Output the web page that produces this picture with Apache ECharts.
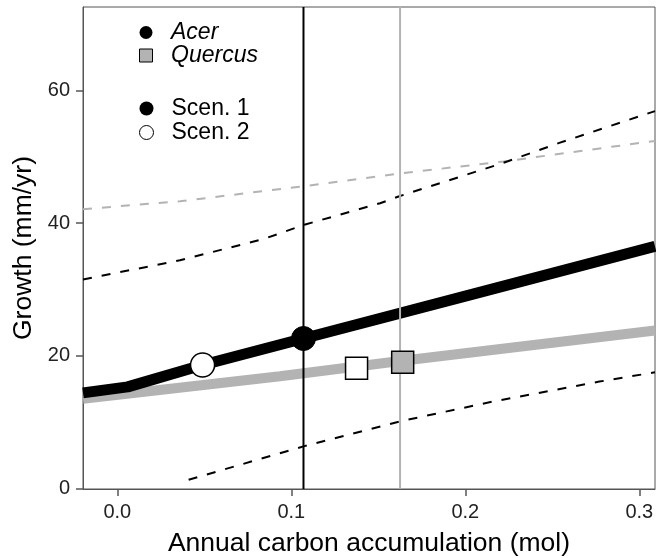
<!DOCTYPE html>
<html>
<head>
<meta charset="utf-8">
<script src="https://cdn.jsdelivr.net/npm/echarts@6/dist/echarts.min.js"></script>
<style>html,body{margin:0;padding:0;background:#fff}#c{width:656px;height:558px}</style>
</head>
<body>
<div id="c"></div>
<script>
// ---- data ----
const xTicks = [0.0, 0.1, 0.2, 0.3];
const yTicks = [0, 20, 40, 60];
const xRange = [-0.0197, 0.309];
const yRange = [-0.1, 72.6];

const acerFitX = [-0.0197, 0.006, 0.049, 0.107, 0.2, 0.309];
const acerFitY = [14.4, 15.3, 18.6, 22.6, 29.0, 36.5];

const acerUpperX = [-0.0197, 0.036, 0.084, 0.108, 0.151, 0.1625, 0.222, 0.254, 0.309];
const acerUpperY = [31.5, 34.4, 37.6, 39.8, 43.0, 44.1, 49.1, 52.1, 56.9];

const acerLowerX = [0.041, 0.108, 0.1625, 0.216, 0.277, 0.309];
const acerLowerY = [1.3, 6.4, 10.1, 13.1, 16.1, 17.5];

const quercusFitX = [-0.0197, 0.0935, 0.1625, 0.309];
const quercusFitY = [13.5, 16.9, 19.2, 23.8];

const quercusUpperX = [-0.0197, 0.036, 0.108, 0.1625, 0.222, 0.309];
const quercusUpperY = [42.1, 43.3, 45.6, 47.5, 49.3, 52.4];

const acerScen1 = [0.107, 22.6];
const acerScen2 = [0.049, 18.6];
const quercusScen1 = [0.164, 19.0];
const quercusScen2 = [0.1375, 18.1];
const acerRefX = 0.107;
const quercusRefX = 0.1625;

const speciesNames = ['Acer', 'Quercus'];
const scenarioNames = ['Scen. 1', 'Scen. 2'];

// ---- styling ----
const GRAY = '#b3b3b3';
const FONT = "'Liberation Sans', Arial, sans-serif";
const zip = (xs, ys) => xs.map((x, i) => [x, ys[i]]);
const SQUARE = 'path://M0,0L10,0L10,10L0,10Z';

const chart = echarts.init(document.getElementById('c'), null, {renderer: 'canvas'});

function dashed(name, xs, ys, color) {
  return {
    name: name, type: 'line', data: zip(xs, ys), showSymbol: false, symbol: 'none',
    lineStyle: {color: color, width: 2, type: [9, 10]}, silent: true, z: 2
  };
}
function vline(name, x, color, z) {
  return {
    name: name, type: 'line', data: [[x, yRange[0]], [x, yRange[1]]], symbol: 'none',
    lineStyle: {color: color, width: 2}, silent: true, z: z
  };
}

const option = {
  animation: false,
  backgroundColor: '#fff',
  textStyle: {fontFamily: FONT},
  grid: {left: 83, right: 1, top: 7, bottom: 69, outerBoundsMode: 'none', containLabel: false,
    show: true, borderColor: '#555', borderWidth: 1, backgroundColor: 'transparent'},
  xAxis: {
    type: 'value', min: xRange[0], max: xRange[1],
    name: 'Annual carbon accumulation (mol)', nameLocation: 'middle', nameGap: 41,
    nameTextStyle: {fontSize: 26.5, color: '#000', fontFamily: FONT},
    axisLine: {show: true, onZero: false, lineStyle: {color: '#555', width: 1}},
    axisTick: {show: true, length: 7, customValues: xTicks, lineStyle: {color: '#555', width: 1.5}},
    axisLabel: {customValues: xTicks, fontSize: 20, color: '#222', margin: 13, fontFamily: FONT,
      formatter: v => v.toFixed(1)},
    splitLine: {show: false}
  },
  yAxis: {
    type: 'value', min: yRange[0], max: yRange[1],
    name: 'Growth (mm/yr)', nameLocation: 'middle', nameGap: 43,
    nameTextStyle: {fontSize: 26.5, color: '#000', fontFamily: FONT},
    axisLine: {show: true, onZero: false, lineStyle: {color: '#555', width: 1}},
    axisTick: {show: true, length: 7, customValues: yTicks, lineStyle: {color: '#555', width: 1.5}},
    axisLabel: {customValues: yTicks, fontSize: 20, color: '#222', margin: 13, fontFamily: FONT},
    splitLine: {show: false}
  },
  legend: [
    {
      data: [
        {name: speciesNames[0], icon: 'circle', itemStyle: {color: '#000', borderColor: '#000', borderWidth: 0, opacity: 1}},
        {name: speciesNames[1], icon: SQUARE, itemStyle: {color: GRAY, borderColor: '#000', borderWidth: 1, opacity: 1}}
      ],
      orient: 'vertical', left: 134, top: 16, itemWidth: 40, itemHeight: 13, itemGap: 0,
      selectedMode: false,
      textStyle: {fontSize: 23, fontStyle: 'italic', color: '#000', lineHeight: 22, fontFamily: FONT}
    },
    {
      data: [
        {name: scenarioNames[0], icon: 'circle', itemStyle: {color: '#000', borderColor: '#000', borderWidth: 0, opacity: 1}},
        {name: scenarioNames[1], icon: 'circle', itemStyle: {color: '#fff', borderColor: '#000', borderWidth: 1, opacity: 1}}
      ],
      orient: 'vertical', left: 134, top: 92, itemWidth: 40, itemHeight: 14, itemGap: 1,
      selectedMode: false,
      textStyle: {fontSize: 23, color: '#000', lineHeight: 22, fontFamily: FONT}
    }
  ],
  series: [
    // legend-only entries
    {name: speciesNames[0], type: 'scatter', data: [], itemStyle: {color: '#000', opacity: 1}},
    {name: speciesNames[1], type: 'scatter', data: [], itemStyle: {color: GRAY, opacity: 1}},
    {name: scenarioNames[0], type: 'scatter', data: [], itemStyle: {color: '#000', opacity: 1}},
    {name: scenarioNames[1], type: 'scatter', data: [], itemStyle: {color: '#fff', opacity: 1}},

    dashed('Quercus upper', quercusUpperX, quercusUpperY, GRAY),
    dashed('Acer upper', acerUpperX, acerUpperY, '#000'),
    dashed('Acer lower', acerLowerX, acerLowerY, '#000'),
    {
      name: 'Quercus fit', type: 'line', data: zip(quercusFitX, quercusFitY), symbol: 'none',
      lineStyle: {color: GRAY, width: 10}, silent: true, z: 3
    },
    {
      name: 'Acer fit', type: 'line', data: zip(acerFitX, acerFitY), symbol: 'none',
      lineStyle: {color: '#000', width: 11, join: 'round'}, silent: true, z: 4
    },
    vline('Quercus ref', quercusRefX, GRAY, 5),
    vline('Acer ref', acerRefX, '#000', 5),
    {
      name: 'Acer points', type: 'scatter', z: 6, symbol: 'circle', symbolSize: 24,
      itemStyle: {opacity: 1},
      data: [
        {value: acerScen1, itemStyle: {color: '#000', borderColor: '#000', borderWidth: 1, opacity: 1}},
        {value: acerScen2, itemStyle: {color: '#fff', borderColor: '#000', borderWidth: 1.5, opacity: 1}}
      ]
    },
    {
      name: 'Quercus points', type: 'scatter', z: 6, symbol: 'rect', symbolSize: 22,
      itemStyle: {opacity: 1},
      data: [
        {value: quercusScen1, itemStyle: {color: GRAY, borderColor: '#000', borderWidth: 1.5, opacity: 1}},
        {value: quercusScen2, itemStyle: {color: '#fff', borderColor: '#000', borderWidth: 1.5, opacity: 1}}
      ]
    }
  ]
};
chart.setOption(option);
</script>
</body>
</html>
